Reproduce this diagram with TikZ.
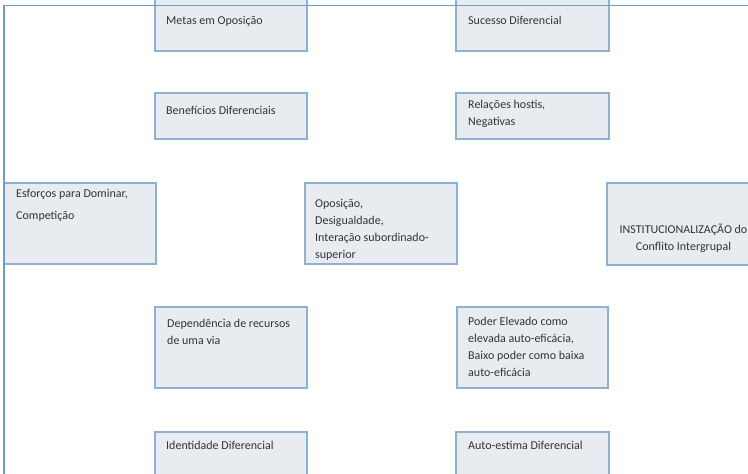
\documentclass[tikz,border=0pt]{standalone}
\usepackage{fontspec}
\setmainfont{Carlito}
\definecolor{boxfill}{HTML}{E8ECF1}
\definecolor{boxline}{HTML}{8FB1D1}
\definecolor{frameline}{HTML}{6F9CC9}
\definecolor{textcol}{HTML}{333333}
\begin{document}
\begin{tikzpicture}[x=1pt,y=-1pt,
  box/.style={draw=boxline, fill=boxfill, line width=1.3pt},
  frame/.style={draw=frameline, line width=1.8pt},
  txt/.style={font=\fontsize{12}{17}\selectfont, text=textcol, inner sep=0pt, anchor=base west}]
\clip (0,0) rectangle (748,474);
% boxes
\draw[box] (155,-10) rectangle (307,51);
\draw[box] (456,-10) rectangle (609,51);
\draw[box] (155,93) rectangle (307,139);
\draw[box] (456,93) rectangle (609,139);
\draw[box] (4,183) rectangle (156,264);
\draw[box] (305,183) rectangle (457,264);
\draw[box] (607,183) rectangle (760,265);
\draw[box] (155,307) rectangle (307,388);
\draw[box] (457,307) rectangle (608,388);
\draw[box] (155,432) rectangle (307,520);
\draw[box] (456,432) rectangle (609,520);
% frame lines
\draw[frame] (4,474) -- (4,5.5) -- (748,5.5);
% texts
\node[txt] (tmetas) at (166,24) {Metas em Oposição};
\node[txt] (tsucesso) at (468,24) {Sucesso Diferencial};
\node[txt] (tbenef) at (166,114) {Benefícios Diferenciais};
\node[txt] (trel) at (468,108) {\begin{tabular}[t]{@{}l@{}}Relações hostis,\\Negativas\end{tabular}};
\node[txt] (tesf) at (16,197) {\begin{tabular}[t]{@{}l@{}}Esforços para Dominar,\\[5pt]Competição\end{tabular}};
\node[txt] (topos) at (315,207) {\begin{tabular}[t]{@{}l@{}}Oposição,\\Desigualdade,\\Interação subordinado-\\superior\end{tabular}};
\node[txt, anchor=base] (tinst) at (683.5,233) {\begin{tabular}[t]{@{}c@{}}INSTITUCIONALIZAÇÃO do\\Conflito Intergrupal\end{tabular}};
\node[txt] (tdep) at (167,327) {\begin{tabular}[t]{@{}l@{}}Dependência de recursos\\de uma via\end{tabular}};
\node[txt] (tpoder) at (468,325) {\begin{tabular}[t]{@{}l@{}}Poder Elevado como\\elevada auto-eficácia,\\Baixo poder como baixa\\auto-eficácia\end{tabular}};
\node[txt] (tident) at (166,449) {Identidade Diferencial};
\node[txt] (tauto) at (468,449) {Auto-estima Diferencial};
\end{tikzpicture}
\end{document}
